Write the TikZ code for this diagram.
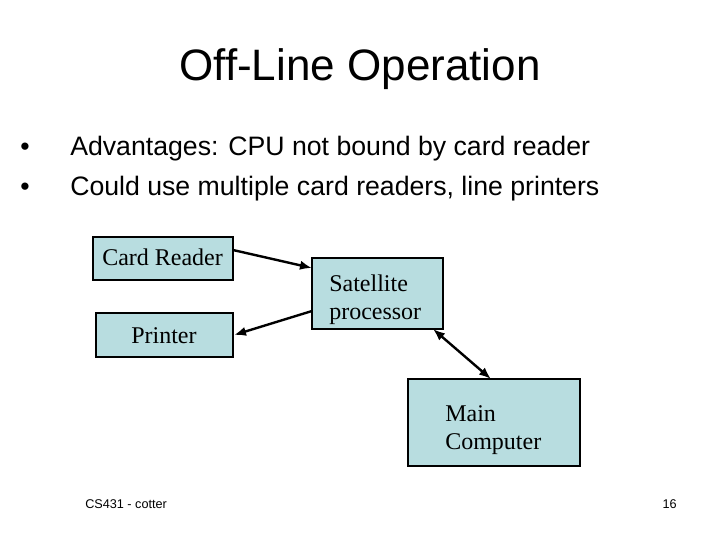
\documentclass[tikz,border=0pt]{standalone}
\usepackage{fontspec}
\usetikzlibrary{arrows.meta}
\setmainfont{Liberation Serif}
\newfontfamily\arial{Liberation Sans}
\begin{document}
\begin{tikzpicture}[x=0.75pt,y=-0.75pt,
  box/.style={draw=black,line width=1.2pt,fill={rgb,255:red,184;green,221;blue,224},inner sep=0pt},
  btxt/.style={font=\fontsize{18}{21}\selectfont,inner sep=0pt,anchor=base west,align=left},
  bul/.style={font=\arial\fontsize{20}{24}\selectfont,anchor=base west,inner sep=0pt},
  arr/.style={line width=1.8pt,-{Latex[length=9pt,width=7pt]}}]
\useasboundingbox (0,0) rectangle (720,540);
\node[font=\arial\fontsize{33}{38}\selectfont] (title) at (360,69) {Off-Line Operation};
\node[bul] (d1) at (20,155) {\textbullet};
\node[bul] (b1) at (70,155) {Advantages: CPU not bound by card reader};
\node[bul] (d2) at (20,195) {\textbullet};
\node[bul] (b2) at (70,195) {Could use multiple card readers, line printers};
\path[box] (93,237) rectangle (233,280);
\path[box] (96,313) rectangle (233,357);
\path[box] (312,258) rectangle (443,329);
\path[box] (408,379) rectangle (580,466);
\node[btxt] (crt) at (102,265) {Card Reader};
\node[btxt] (prt) at (131,343) {Printer};
\node[btxt] (st) at (329,319) {Satellite\\processor};
\node[btxt] (mt) at (445,449) {Main\\Computer};
\coordinate (a1) at (233,250); \coordinate (a2) at (312,268);
\coordinate (p1) at (312,311); \coordinate (p2) at (234,335);
\coordinate (m1) at (433,329); \coordinate (m2) at (491,379);
\draw[arr] (a1) -- (a2);
\draw[arr] (p1) -- (p2);
\draw[arr,{Latex[length=9pt,width=7pt]}-{Latex[length=9pt,width=7pt]}] (m1) -- (m2);
\node[font=\arial\fontsize{9.5}{11}\selectfont,anchor=base west,inner sep=0pt] (f1) at (85,508) {CS431 - cotter};
\node[font=\arial\fontsize{9.5}{11}\selectfont,anchor=base east,inner sep=0pt] (f2) at (677,508) {16};
\end{tikzpicture}
\end{document}
